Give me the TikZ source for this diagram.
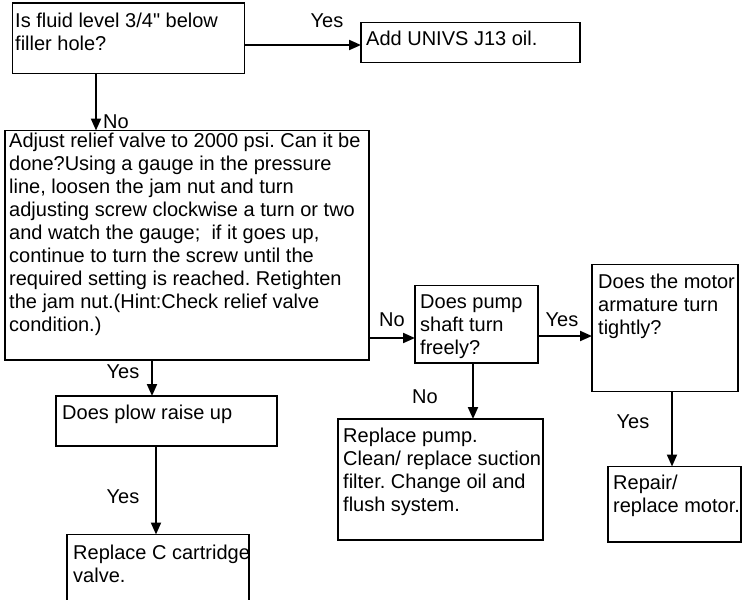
\documentclass[tikz,border=0pt]{standalone}
\usepackage{fontspec}
\setmainfont{Liberation Sans}[Ligatures=TeXOff]
\usetikzlibrary{arrows.meta}
\newcommand{\diagfont}{\fontsize{20}{23}\selectfont\frenchspacing}
\tikzset{
  box/.style={draw, line width=1.4pt, anchor=north west, inner sep=0pt, outer sep=0pt, minimum width=#1},
  txt/.style={anchor=north west, inner sep=0pt, align=left, font=\diagfont},
  lbl/.style={inner sep=0pt, font=\diagfont},
  arr/.style={line width=2pt, -{Triangle[length=12pt,width=10pt]}}
}
\begin{document}
\begin{tikzpicture}[x=1pt,y=-1pt]
\useasboundingbox[fill=white] (0,0) rectangle (742,600);
% boxes
\node[box=232pt, minimum height=70.5pt] (A) at (12.5,3) {};
\node[box=219pt, minimum height=40pt] (B) at (361,22.5) {};
\node[box=364pt, minimum height=229.5pt] (C) at (5,130.5) {};
\node[box=123pt, minimum height=77.5pt] (D) at (415,285.5) {};
\node[box=146pt, minimum height=127pt] (E) at (592,264.5) {};
\node[box=221pt, minimum height=50pt] (F) at (56,396) {};
\node[box=182pt, minimum height=80pt] (G) at (67,534.5) {};
\node[box=205pt, minimum height=121pt] (H) at (338,419) {};
\node[box=133pt, minimum height=75.5pt] (I) at (608,466.5) {};
% texts
\node[txt] (At) at (15,13) {Is fluid level 3/4" below\\filler hole?};
\node[txt] (Bt) at (366,30.5) {Add UNIVS J13 oil.};
\node[txt] (Ct) at (9,132.5) {Adjust relief valve to 2000 psi. Can it be\\done?Using a gauge in the pressure\\line, loosen the jam nut and turn\\adjusting screw clockwise a turn or two\\and watch the gauge;\ \ if it goes up,\\continue to turn the screw until the\\required setting is reached. Retighten\\the jam nut.(Hint:Check relief valve\\condition.)};
\node[txt] (Dt) at (420,295) {Does pump\\shaft turn\\freely?};
\node[txt] (Et) at (598,273.5) {Does the motor\\armature turn\\tightly?};
\node[txt] (Ft) at (62,405) {Does plow raise up};
\node[txt] (Gt) at (73,545) {Replace C cartridge\\valve.};
\node[txt] (Ht) at (343,428) {Replace pump.\\Clean/ replace suction\\filter. Change oil and\\flush system.};
\node[txt] (It) at (613,475) {Repair/\\replace motor.};
% connectors
\draw[arr] ([yshift=-42pt]A.north east) -- ([yshift=-22.5pt]B.north west);
\draw[arr] ([xshift=83.5pt]A.south west) -- ([xshift=91pt]C.north west);
\draw[arr] ([yshift=22pt]C.south east) -- ([yshift=-52.5pt]D.north west);
\draw[arr] ([yshift=-50.5pt]D.north east) -- ([yshift=-71.5pt]E.north west);
\draw[arr] ([xshift=58pt]D.south west) -- ([xshift=135pt]H.north west);
\draw[arr] ([xshift=80pt]E.south west) -- ([xshift=64pt]I.north west);
\draw[arr] ([xshift=147pt]C.south west) -- ([xshift=96pt]F.north west);
\draw[arr] ([xshift=100pt]F.south west) -- ([xshift=89pt]G.north west);
% labels
\node[lbl] (l1) at (327,21) {Yes};
\node[lbl] (l2) at (116,122) {No};
\node[lbl] (l3) at (392,320) {No};
\node[lbl] (l4) at (562,320) {Yes};
\node[lbl] (l5) at (425,397) {No};
\node[lbl] (l6) at (633,422) {Yes};
\node[lbl] (l7) at (123,372) {Yes};
\node[lbl] (l8) at (123,497) {Yes};
\end{tikzpicture}
\end{document}
